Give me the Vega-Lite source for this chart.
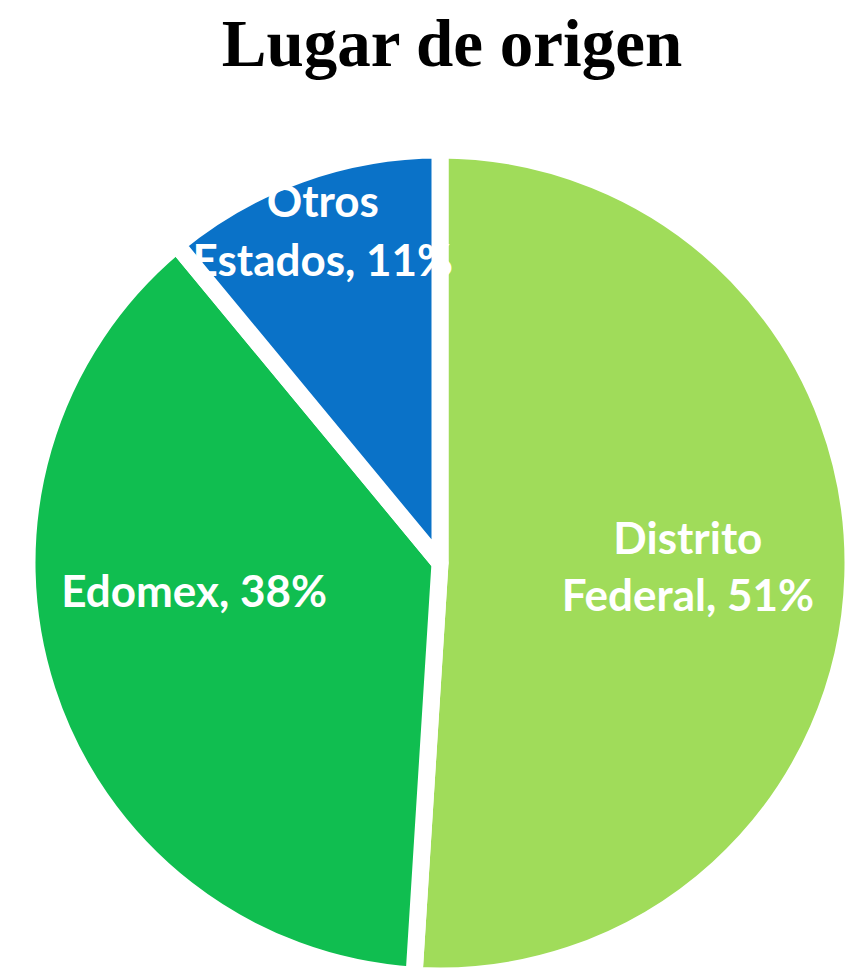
{
  "$schema": "https://vega.github.io/schema/vega-lite/v6.json",
  "width": 830,
  "height": 828,
  "autosize": {"type": "none"},
  "padding": {"left": 25, "top": 149, "right": 0, "bottom": 0},
  "background": "white",
  "title": {
    "text": "Lugar de origen",
    "font": "Liberation Serif",
    "fontSize": 67,
    "fontWeight": "bold",
    "color": "black",
    "anchor": "middle",
    "dx": 12,
    "offset": 62
  },
  "data": {
    "values": [
      {"lugar": "Distrito Federal", "etiqueta": "Distrito|Federal, 51%", "porcentaje": 51, "orden": 1},
      {"lugar": "Edomex", "etiqueta": "Edomex, 38%", "porcentaje": 38, "orden": 2},
      {"lugar": "Otros Estados", "etiqueta": "Otros|Estados, 11%", "porcentaje": 11, "orden": 3}
    ]
  },
  "transform": [
    {"stack": "porcentaje", "groupby": [], "sort": [{"field": "orden"}], "as": ["ini", "fin"]},
    {"calculate": "(datum.ini + datum.fin) / 2", "as": "medio"}
  ],
  "layer": [
    {
      "mark": {"type": "arc", "outerRadius": 413, "stroke": "white", "strokeWidth": 17, "strokeJoin": "round"},
      "encoding": {
        "theta": {"field": "ini", "type": "quantitative", "scale": {"domain": [0, 100]}},
        "theta2": {"field": "fin"},
        "color": {
          "field": "lugar",
          "type": "nominal",
          "scale": {"domain": ["Distrito Federal", "Edomex", "Otros Estados"], "range": ["#A0DC5A", "#10BE50", "#0A72C8"]},
          "legend": null
        }
      }
    },
    {
      "transform": [{"filter": "datum.lugar == 'Distrito Federal'"}],
      "mark": {"type": "text", "radius": 248, "font": "Lato", "fontWeight": "bold", "fontSize": 44, "color": "white", "lineBreak": "|", "lineHeight": 57, "baseline": "middle", "align": "center", "dy": -30},
      "encoding": {
        "theta": {"field": "medio", "type": "quantitative", "scale": {"domain": [0, 100]}},
        "text": {"field": "etiqueta"}
      }
    },
    {
      "transform": [{"filter": "datum.lugar == 'Edomex'"}],
      "mark": {"type": "text", "radius": 248, "font": "Lato", "fontWeight": "bold", "fontSize": 44, "color": "white", "lineBreak": "|", "lineHeight": 57, "baseline": "middle", "align": "center", "dx": -10, "dy": -46},
      "encoding": {
        "theta": {"field": "medio", "type": "quantitative", "scale": {"domain": [0, 100]}},
        "text": {"field": "etiqueta"}
      }
    },
    {
      "transform": [{"filter": "datum.lugar == 'Otros Estados'"}],
      "mark": {"type": "text", "radius": 346, "font": "Lato", "fontWeight": "bold", "fontSize": 44, "color": "white", "lineBreak": "|", "lineHeight": 59, "baseline": "middle", "align": "center", "dy": -33},
      "encoding": {
        "theta": {"field": "medio", "type": "quantitative", "scale": {"domain": [0, 100]}},
        "text": {"field": "etiqueta"}
      }
    }
  ],
  "config": {"view": {"stroke": null}}
}
